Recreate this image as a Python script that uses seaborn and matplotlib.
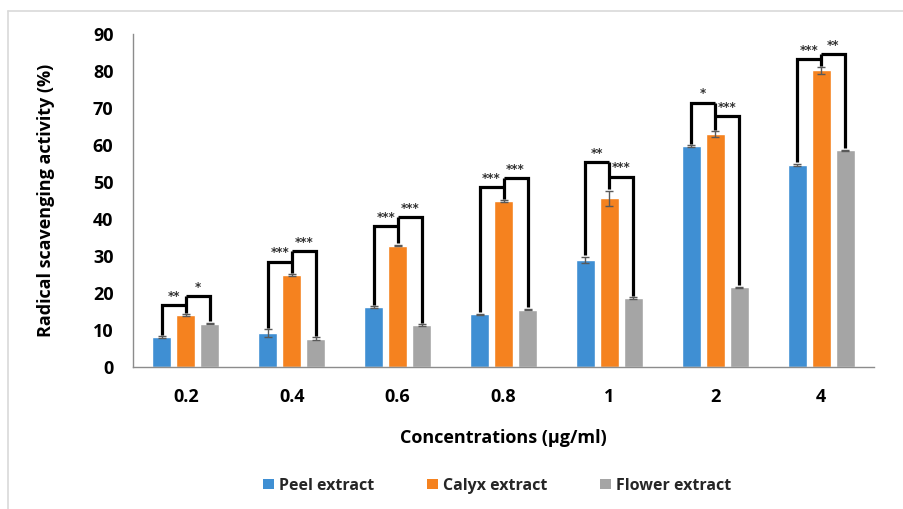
import numpy as np
import pandas as pd
import matplotlib
matplotlib.use("Agg")
import matplotlib.pyplot as plt
from matplotlib.lines import Line2D
from matplotlib.patches import Patch
from matplotlib.container import BarContainer
import seaborn as sns

# ---------------- data ----------------
concentrations = ["0.2", "0.4", "0.6", "0.8", "1", "2", "4"]
extracts = ["Peel extract", "Calyx extract", "Flower extract"]
peel = [8.1, 9.1, 16.2, 14.2, 29.0, 59.8, 54.6]
calyx = [14.0, 24.9, 32.8, 44.9, 45.6, 63.0, 80.2]
flower = [11.7, 7.7, 11.4, 15.5, 18.6, 21.5, 58.6]
peel_err = [0.2, 1.1, 0.2, 0.2, 0.8, 0.2, 0.3]
calyx_err = [0.2, 0.2, 0.2, 0.2, 2.1, 0.8, 0.9]
flower_err = [0.2, 0.4, 0.2, 0.2, 0.2, 0.2, 0.2]
# significance brackets: (peel vs calyx), (calyx vs flower)
bracket_pc = [16.8, 28.5, 38.0, 48.7, 55.5, 71.5, 83.2]
bracket_cf = [19.1, 31.3, 40.6, 51.1, 51.5, 67.9, 84.6]
stars_pc = ["**", "***", "***", "***", "**", "*", "***"]
stars_cf = ["*", "***", "***", "***", "***", "***", "**"]
colors = ["#3F8FD3", "#F5821F", "#A5A5A5"]

df = pd.DataFrame({
    "conc": concentrations * 3,
    "extract": [e for e in extracts for _ in concentrations],
    "value": peel + calyx + flower,
})

sns.set_theme(style="white")
plt.rcParams["font.family"] = ["Open Sans", "DejaVu Sans"]

fig = plt.figure(figsize=(9.04, 5.09), dpi=100)
ax = fig.add_axes([0.147, 0.279, 0.820, 0.654])

sns.barplot(data=df, x="conc", y="value", hue="extract", order=concentrations,
            hue_order=extracts, palette=colors, saturation=1, width=0.68, gap=0.2,
            errorbar=None, legend=False, ax=ax)

errs = [peel_err, calyx_err, flower_err]
vals = [peel, calyx, flower]
bar_conts = [c for c in ax.containers if isinstance(c, BarContainer)]
centers = []
for k, cont in enumerate(bar_conts):
    xs = [b.get_x() + b.get_width() / 2 for b in cont]
    centers.append(xs)
for k in range(3):
    ax.errorbar(centers[k], vals[k], yerr=errs[k], fmt="none", ecolor="#595959",
                elinewidth=1.0, capsize=3, capthick=1.0, zorder=3)

lw = 2.3
for i in range(len(concentrations)):
    xp, xc, xf = centers[0][i], centers[1][i], centers[2][i]
    tp = peel[i] + peel_err[i] + 0.4
    tc = calyx[i] + calyx_err[i] + 0.4
    tf = flower[i] + flower_err[i] + 0.4
    h1, h2 = bracket_pc[i], bracket_cf[i]
    # peel -> calyx bracket
    ax.plot([xp, xp, xc], [tp, h1, h1], color="black", lw=lw,
            solid_joinstyle="miter", solid_capstyle="butt", zorder=4)
    # calyx middle post
    ax.plot([xc, xc], [tc, max(h1, h2)], color="black", lw=lw,
            solid_capstyle="butt", zorder=4)
    # calyx -> flower bracket
    ax.plot([xc, xf, xf], [h2, h2, tf], color="black", lw=lw,
            solid_joinstyle="miter", solid_capstyle="butt", zorder=4)
    ax.annotate(stars_pc[i], ((xp + xc) / 2, h1), xytext=(0, 1.5),
                textcoords="offset points", ha="center", va="bottom",
                fontsize=8.5, fontweight="bold", color="#333333",
                family="DejaVu Sans")
    ax.annotate(stars_cf[i], ((xc + xf) / 2, h2), xytext=(0, 1.5),
                textcoords="offset points", ha="center", va="bottom",
                fontsize=8.5, fontweight="bold", color="#333333",
                family="DejaVu Sans")

ax.set_ylim(0, 90)
ax.set_xlim(-0.5, len(concentrations) - 0.5)
ax.set_yticks(np.arange(0, 91, 10))
ax.set_xlabel("Concentrations (µg/ml)", fontsize=13, fontweight="bold",
              labelpad=16.5, color="black")
ax.set_ylabel("Radical scavenging activity (%)", fontsize=13,
              fontweight="bold", labelpad=27, color="black")
ax.tick_params(axis="both", length=0, labelsize=13, colors="black")
ax.tick_params(axis="y", pad=14)
ax.tick_params(axis="x", pad=15)
for lab in ax.get_xticklabels() + ax.get_yticklabels():
    lab.set_fontweight("bold")
for s in ["top", "right"]:
    ax.spines[s].set_visible(False)
for s in ["left", "bottom"]:
    ax.spines[s].set_color("#8C8C8C")
    ax.spines[s].set_linewidth(1.0)

handles = [Patch(facecolor=c, edgecolor="none", label=l) for c, l in zip(colors, extracts)]
leg = fig.legend(handles=handles, loc="center", bbox_to_anchor=(0.5504, 0.046),
                 ncol=3, frameon=False, handlelength=0.65, handleheight=0.65,
                 handletextpad=0.35, columnspacing=3.3,
                 prop={"family": "Open Sans", "weight": "bold", "size": 11.5})

# light frame lines (left and top) around the figure
fig.add_artist(Line2D([0.0085, 0.0085], [0.0, 0.978], color="#D9D9D9", lw=1.2,
                      transform=fig.transFigure))
fig.add_artist(Line2D([0.0085, 1.0], [0.978, 0.978], color="#D9D9D9", lw=1.2,
                      transform=fig.transFigure))

fig.savefig("out.png", dpi=100)
